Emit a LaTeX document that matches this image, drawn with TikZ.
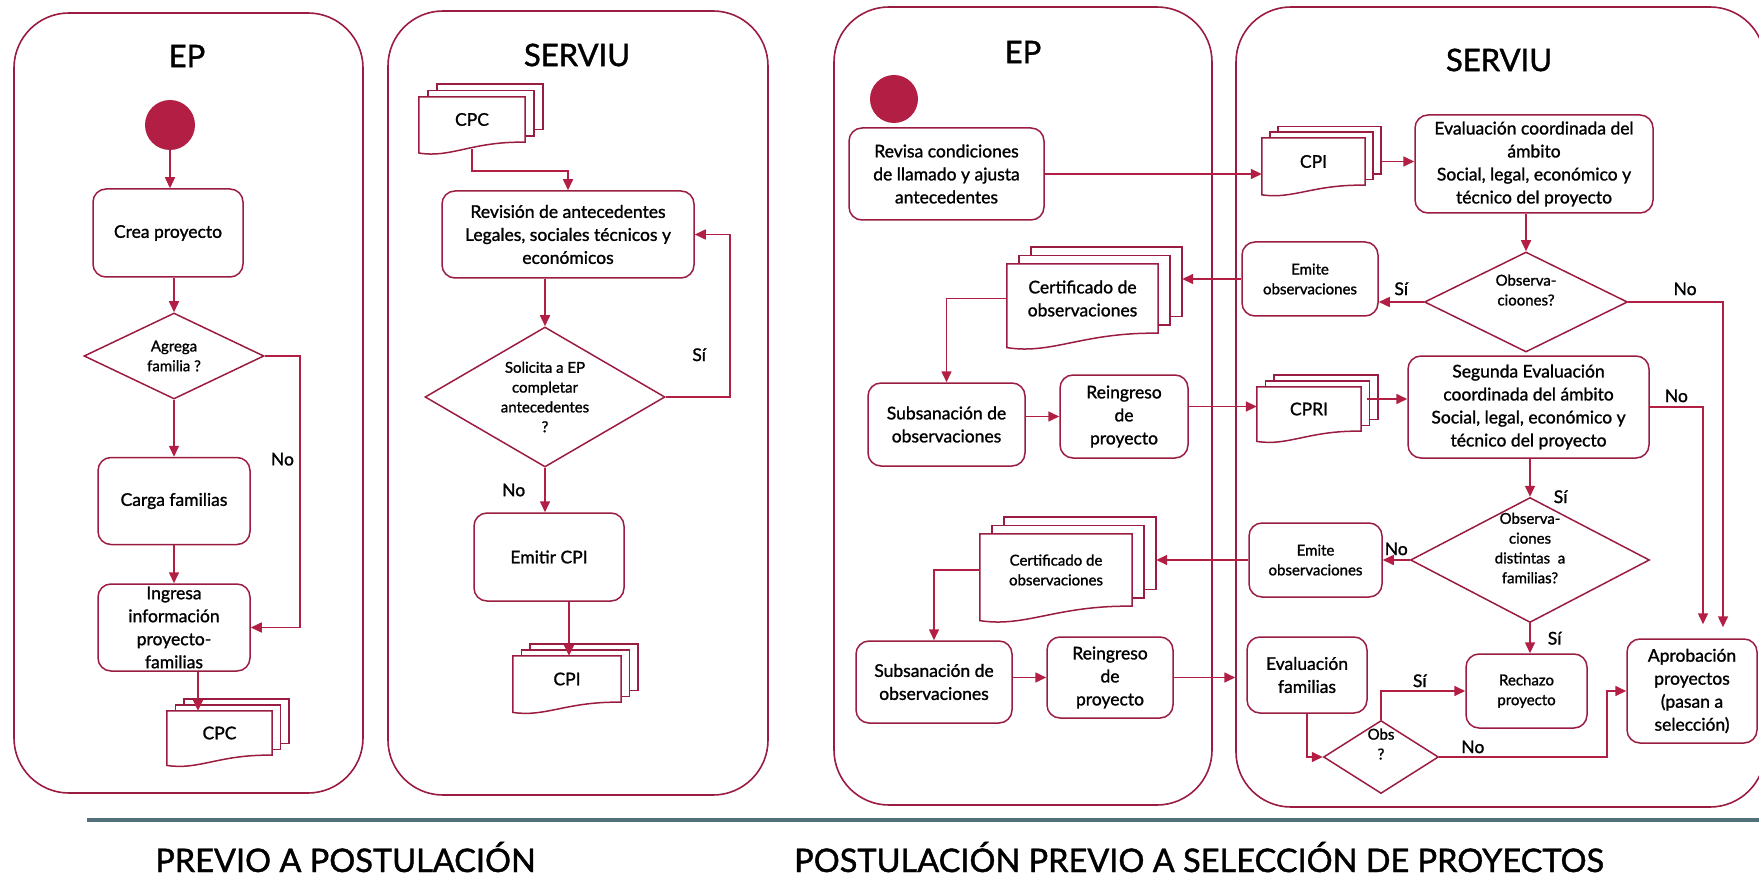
\documentclass[tikz,border=0pt]{standalone}
\usepackage{fontspec}
\setmainfont{Lato}[UprightFeatures={FakeBold=1.3}]
\usetikzlibrary{shapes.geometric, arrows.meta, calc}
\definecolor{carmin}{HTML}{B31E45}
\definecolor{granate}{HTML}{9A1C40}
\definecolor{pizarra}{HTML}{52707A}
\newcommand{\textonormal}{\fontsize{17.5}{23}\selectfont}
\newcommand{\textochico}{\fontsize{15}{19.8}\selectfont}
\newcommand{\textotitulo}{\fontsize{31}{36}\selectfont}
\newcommand{\textopie}{\fontsize{32.5}{38}\selectfont}
\tikzstyle{carril} = [rectangle, rounded corners=55pt, draw=granate, line width=1.6pt]
\tikzstyle{titulo} = [font=\textotitulo]
\tikzstyle{pie} = [font=\textopie]
\tikzstyle{rotulo} = [font=\textonormal, inner sep=1pt]
\tikzstyle{inicio} = [circle, fill=carmin, minimum size=50pt, inner sep=0pt]
\tikzstyle{proceso} = [rectangle, rounded corners=13pt, draw=granate, line width=1.5pt, align=center, font=\textonormal, inner sep=1pt]
\tikzstyle{decision} = [diamond, draw=granate, line width=1.5pt, align=center, font=\textochico, inner sep=0pt]
\tikzstyle{flecha} = [line width=1.6pt, draw=carmin, -{Triangle[length=11pt,width=10pt]}]
\tikzstyle{separador} = [line width=4pt, draw=pizarra]
\tikzset{documentos/.style={
        rectangle, align=center, font=\textonormal, inner sep=1pt,
        append after command={
            \pgfextra
            \draw[granate, line width=1.5pt] (\tikzlastnode.north east) -- (\tikzlastnode.south east)
                .. controls ($(\tikzlastnode.south)+(0,-1)$) and ($(\tikzlastnode.south west)!0.3!(\tikzlastnode.south east)+(0,#1*1.8)$) .. ($(\tikzlastnode.south west)+(0,#1*1.2)$)
                -- (\tikzlastnode.north west) -- cycle;
            \draw[granate, line width=1.5pt] ([xshift=#1]\tikzlastnode.north west) -- ++(0,-0.7*#1) -| ($(\tikzlastnode.south east)+(#1,-0.7*#1)$) -- ($(\tikzlastnode.south east)+(0,-0.7*#1)$);
            \draw[granate, line width=1.5pt] ($(\tikzlastnode.north west)+(2*#1,-0.7*#1)$) -- ++(0,-0.7*#1) -| ($(\tikzlastnode.south east)+(2*#1,-1.4*#1)$) -- ($(\tikzlastnode.south east)+(#1,-1.4*#1)$);
        \endpgfextra}
    },
    documentos/.default=9
}

\begin{document}
\begin{tikzpicture}[x=1pt, y=-1pt]
    \useasboundingbox (0,0) rectangle (1759,877);
    % carriles
    \node (carrilA) [carril, minimum width=349, minimum height=780] at (188.5,403) {};
    \node (carrilB) [carril, minimum width=380, minimum height=784] at (578,403) {};
    \node (carrilC) [carril, minimum width=378, minimum height=798] at (1023,406) {};
    \node (carrilD) [carril, minimum width=529, minimum height=800] at (1500.5,407) {};
    \node (tituloA) [titulo] at (187,56) {EP};
    \node (tituloB) [titulo] at (577,55) {SERVIU};
    \node (tituloC) [titulo] at (1023,52) {EP};
    \node (tituloD) [titulo] at (1499,60) {SERVIU};

    % previo a postulacion
    \node (inicioA) [inicio] at (170,125) {};
    \node (crea) [proceso, minimum width=150, minimum height=88] at (168,233) {Crea proyecto};
    \node (agrega) [decision, aspect=2.1, minimum width=180, minimum height=86] at (174,356) {Agrega\\familia ?};
    \node (carga) [proceso, minimum width=152, minimum height=87] at (174,501) {Carga familias};
    \node (ingresa) [proceso, minimum width=152, minimum height=87] at (174,627.5) {Ingresa\\información\\proyecto-\\familias};
    \node (cpcA) [documentos=8.5, minimum width=105, minimum height=44] at (219.5,733) {CPC};

    \node (cpcB) [documentos=9, minimum width=106, minimum height=45] at (472,119.5) {CPC};
    \node (revision) [proceso, minimum width=252, minimum height=87] at (568,234.5) {Revisión de antecedentes\\Legales, sociales técnicos y\\económicos};
    \node (solicita) [decision, aspect=1.7, minimum width=240, minimum height=140] at (545,397) {Solicita a EP\\completar\\antecedentes\\?};
    \node (emitir) [proceso, minimum width=150, minimum height=88] at (549,557) {Emitir CPI};
    \node (cpiB) [documentos=8.5, minimum width=108, minimum height=46] at (567,679) {CPI};

    \draw [flecha] (inicioA) -- (inicioA |- crea.north);
    \draw [flecha] (crea.south -| agrega.north) -- (agrega.north);
    \draw [flecha] (agrega.south) -- (carga.north);
    \draw [flecha] (carga.south) -- (ingresa.north);
    \draw [flecha] (agrega.east) -- ++(35,0) |- node[rotulo, pos=0.19, left=4pt] {No} (ingresa.east);
    \coordinate (bajaA) at ([xshift=24]ingresa.south);
    \draw [flecha] (bajaA) -- (bajaA |- cpcA.north);

    \draw [flecha] ([yshift=-7]cpcB.south) -- ++(0,22) -| (revision.north);
    \draw [flecha] (revision.south -| solicita.north) -- (solicita.north);
    \draw [flecha] (solicita.east) -- ++(64,0) |- node[rotulo, pos=0.13, left=22pt] {Sí} (revision.east);
    \draw [flecha] (solicita.south) -- node[rotulo, left=18pt] {No} (solicita.south |- emitir.north);
    \coordinate (bajaB) at ([xshift=20]emitir.south);
    \draw [flecha] (bajaB) -- (bajaB |- cpiB.north);

    % postulacion
    \node (inicioC) [inicio, minimum size=48] at (894,99) {};
    \node (revisa) [proceso, minimum width=195, minimum height=92] at (946.5,174) {Revisa condiciones\\de llamado y ajusta\\antecedentes};
    \node (certC) [documentos=12, minimum width=151, minimum height=69] at (1082.5,298.5) {Certificado de\\observaciones};
    \node (subsC) [proceso, minimum width=157, minimum height=83] at (946.5,424.5) {Subsanación de\\observaciones};
    \node (reingC) [proceso, minimum width=128, minimum height=83] at (1124,416.5) {Reingreso\\de\\proyecto};
    \node (certE) [documentos=12, font=\textochico, minimum width=152, minimum height=72] at (1056,570) {Certificado de\\observaciones};
    \node (subsE) [proceso, minimum width=156, minimum height=82] at (934,682) {Subsanación de\\observaciones};
    \node (reingE) [proceso, minimum width=126, minimum height=81] at (1110,677.5) {Reingreso\\de\\proyecto};

    \node (cpiD) [documentos=8, minimum width=103, minimum height=47] at (1313.5,161.5) {CPI};
    \node (evalD) [proceso, minimum width=238, minimum height=98] at (1534,164) {Evaluación coordinada del\\ámbito\\Social, legal, económico y\\técnico del proyecto};
    \node (obsD) [decision, aspect=2, text depth=24pt, minimum width=203, minimum height=100] at (1526,302) {Observa-\\cioones?};
    \node (emiteD) [proceso, font=\textochico, minimum width=136, minimum height=74] at (1310,279) {Emite\\observaciones};
    \node (cpri) [documentos=8.5, minimum width=104, minimum height=44] at (1309,409) {CPRI};
    \node (segunda) [proceso, minimum width=241, minimum height=102] at (1528.5,407) {Segunda Evaluación\\coordinada del ámbito\\Social, legal, económico y\\técnico del proyecto};
    \node (obsF) [decision, aspect=1.9, inner sep=-6pt, text depth=24pt, minimum width=239, minimum height=125] at (1530,560) {Observa-\\ciones\\distintas \ a\\familias?};
    \node (emiteF) [proceso, font=\textochico, minimum width=133, minimum height=74] at (1315.5,560) {Emite\\observaciones};
    \node (evalfam) [proceso, minimum width=120, minimum height=76] at (1307,675) {Evaluación\\familias};
    \node (obsG) [decision, aspect=1.6, inner sep=-4pt, text depth=26pt, minimum width=115, minimum height=73] at (1381,757) {Obs\\?};
    \node (rechazo) [proceso, font=\textochico, minimum width=121, minimum height=74] at (1526.5,691) {Rechazo\\proyecto};
    \node (aprob) [proceso, minimum width=130, minimum height=104] at (1692,691) {Aprobación\\proyectos\\(pasan a\\selección)};

    \draw [flecha] (revisa.east) -- (revisa.east -| cpiD.west);
    \draw [flecha] ([xshift=17]cpiD.east) -- (cpiD.east -| evalD.west);
    \draw [flecha] (evalD.south -| obsD.north) -- (obsD.north);
    \draw [flecha] (obsD.west) -- node[rotulo, above=5pt] {Sí} (obsD.west -| emiteD.east);
    \draw [flecha] (obsD.east) -| node[rotulo, pos=0.3, above=5pt] {No} ([xshift=31,yshift=11]aprob.north);
    \coordinate (llegaC) at ([xshift=24]certC.east);
    \draw [flecha] (emiteD.west) -- (emiteD.west -| llegaC);
    \draw [flecha] (certC.west) -| (subsC.north);
    \draw [flecha] (subsC.east |- reingC.west) -- (reingC.west);
    \coordinate (saleC) at ([yshift=10]reingC.east);
    \draw [flecha] (saleC) -- (saleC -| cpri.west);
    \coordinate (saleR) at ([xshift=6,yshift=10]cpri.east);
    \draw [flecha] (saleR) -- (saleR -| segunda.west);
    \draw [flecha] (segunda.east) -| node[rotulo, pos=0.25, above=3pt] {No} ([xshift=11,yshift=14]aprob.north);
    \draw [flecha] (segunda.south -| obsF.north) -- node[rotulo, at end, right=22pt] {Sí} (obsF.north);
    \draw [flecha] (obsF.west) -- node[rotulo, above=3pt] {No} (obsF.west -| emiteF.east);
    \coordinate (llegaE) at ([xshift=24]certE.east);
    \draw [flecha] (emiteF.west) -- (emiteF.west -| llegaE);
    \draw [flecha] (certE.west) -| (subsE.north);
    \draw [flecha] (subsE.east |- reingE.west) -- (reingE.west);
    \draw [flecha, shorten >=11pt] (reingE.east) -- (reingE.east -| evalfam.west);
    \draw [flecha] (evalfam.south) |- (obsG.west);
    \draw [flecha] (obsG.north) |- node[rotulo, pos=0.73, above=2pt] {Sí} (rechazo.west);
    \draw [flecha] (obsG.east) -- node[rotulo, pos=0.2, above=2pt] {No} ++(168,0) |- (aprob.west);
    \draw [flecha] (obsF.south) -- node[rotulo, right=16pt] {Sí} (obsF.south |- rechazo.north);

    % pie
    \draw [separador] (87,820) -- (1759,820);
    \node (previo) [pie, anchor=base] at (345.5,872) {PREVIO A POSTULACIÓN};
    \node (postula) [pie, anchor=base] at (1199,872) {POSTULACIÓN PREVIO A SELECCIÓN DE PROYECTOS};
\end{tikzpicture}
\end{document}
